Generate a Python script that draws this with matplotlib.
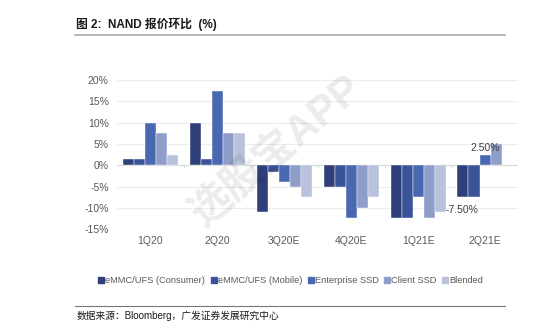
import numpy as np
import matplotlib.pyplot as plt
from matplotlib.lines import Line2D

plt.rcParams['font.family'] = ['Liberation Sans', 'Noto Sans CJK SC', 'DejaVu Sans']

# 数据
quarters = ['1Q20', '2Q20', '3Q20E', '4Q20E', '1Q21E', '2Q21E']
series_names = ['eMMC/UFS (Consumer)', 'eMMC/UFS (Mobile)', 'Enterprise SSD', 'Client SSD', 'Blended']
consumer = [1.5, 10.0, -11.0, -5.0, -12.5, -7.5]
mobile = [1.5, 1.5, -1.5, -5.0, -12.5, -7.5]
enterprise = [10.0, 17.5, -4.0, -12.5, -7.5, 2.5]
client = [7.5, 7.5, -5.0, -10.0, -12.5, 5.0]
blended = [2.5, 7.5, -7.5, -7.5, -11.0, np.nan]
colores = ['#2F3F7A', '#3A5399', '#4868B2', '#8E9EC8', '#B9C2DC']

fig = plt.figure(figsize=(5.53, 3.35), dpi=100)
ax = fig.add_axes([0.2116, 0.316, 0.726, 0.445])

x = np.arange(len(quarters))
ancho = 0.165
todas = [consumer, mobile, enterprise, client, blended]
for i, serie in enumerate(todas):
    ax.bar(x + (i - 2) * ancho, serie, ancho, color=colores[i], zorder=3,
           edgecolor='white', linewidth=0.3, label=series_names[i])

ax.set_xlim(-0.5, len(quarters) - 0.5)
ax.set_ylim(-15, 20)
ax.set_yticks(np.arange(-15, 21, 5))
ax.set_yticklabels([f'{v}%' for v in range(-15, 21, 5)])
ax.grid(axis='y', color='#EDEDED', linewidth=0.8, zorder=0)
for s in ax.spines.values():
    s.set_visible(False)
ax.axhline(0, color='#D9D9D9', linewidth=0.8, zorder=2)
ax.tick_params(axis='y', length=0, labelsize=7.5, labelcolor='#595959', pad=6)

# etiquetas de categoria abajo
ax.set_xticks([])
for xi, q in zip(x, quarters):
    ax.text(xi, -16.5, q, ha='center', va='top', fontsize=7.5, color='#595959')
for b in np.arange(0.5, len(quarters) - 0.5, 1):
    ax.plot([b, b], [0, -0.4], color='#D9D9D9', linewidth=0.8, zorder=2)

# etiquetas de datos
ax.text(5 + 0 * ancho, enterprise[5] + 0.3, '2.50%', ha='center', va='bottom',
        fontsize=7.5, color='#404040')
ax.text(4 + 2.5 * ancho, -10.6, '-7.50%', ha='left', va='center',
        fontsize=7.5, color='#404040')

# marca de agua
fig.text(0.5, 0.55, '选股宝APP', rotation=40, fontsize=30, fontweight='bold',
         color='#000000', alpha=0.08, ha='center', va='center')

handles = [Line2D([], [], marker='s', linestyle='', markersize=4, color=c) for c in colores]
fig.legend(handles, series_names, loc='center', bbox_to_anchor=(0.525, 0.163), ncol=5,
           frameon=False, fontsize=6.7, labelcolor='#595959', handletextpad=0.05,
           columnspacing=0.5, handlelength=0.8)

# titulo y fuente
fig.text(0.138, 0.928, '图 2:  NAND 报价环比  (%)', fontsize=8.5, fontweight='bold',
         ha='left', va='center', color='#1A1A1A')
fig.add_artist(Line2D([0.136, 0.913], [0.895, 0.895], color='#AAAAAA', linewidth=1.2))
fig.add_artist(Line2D([0.136, 0.913], [0.087, 0.087], color='#777777', linewidth=0.8))
fig.text(0.138, 0.057, '数据来源：Bloomberg，广发证券发展研究中心', fontsize=7,
         ha='left', va='center', color='#1A1A1A')

fig.savefig('out.png', dpi=100)
